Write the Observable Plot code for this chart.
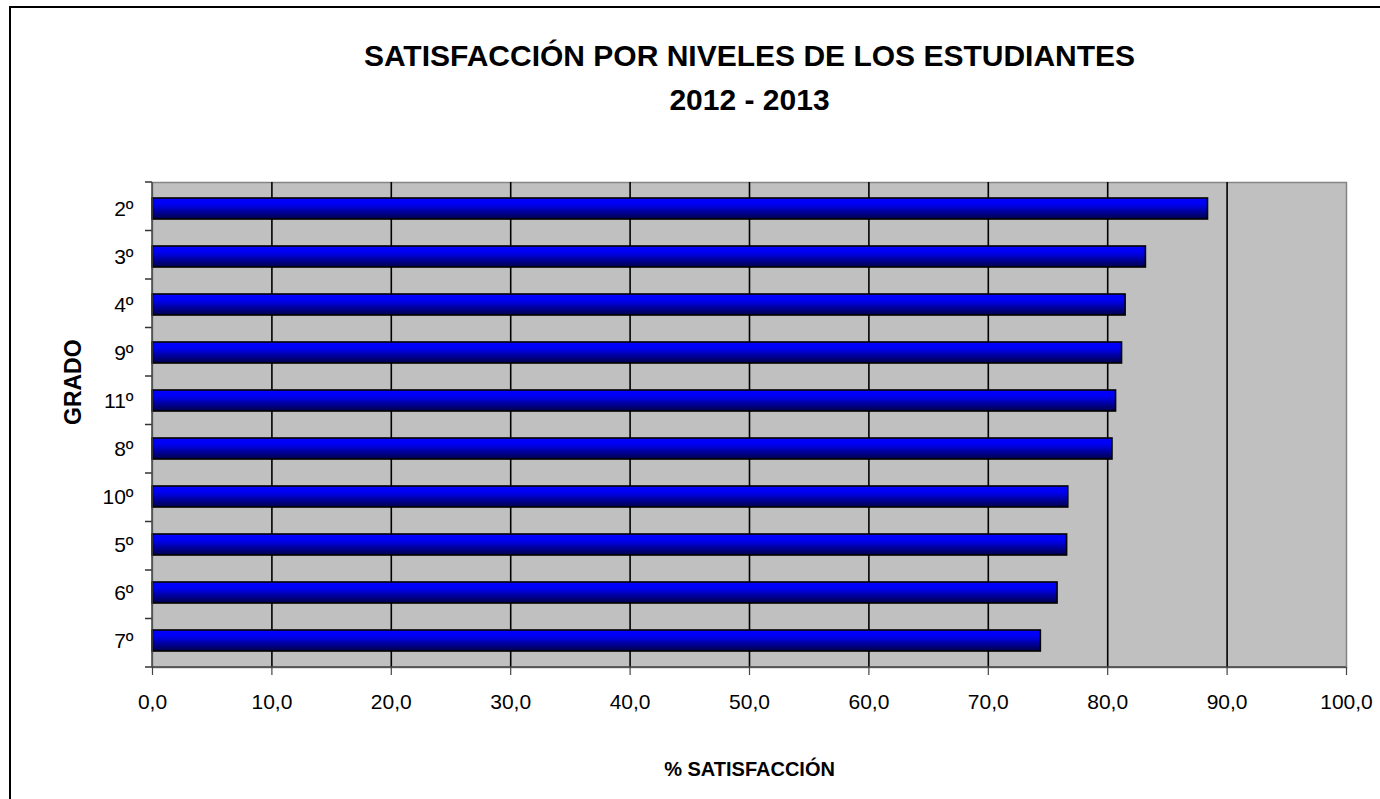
<!DOCTYPE html>
<html><head><meta charset="utf-8">
<script src="https://cdn.jsdelivr.net/npm/d3@7"></script>
<script src="https://cdn.jsdelivr.net/npm/@observablehq/plot@0.6"></script>
<style>
html,body{margin:0;padding:0;background:#fff;}
#wrap{position:relative;width:1380px;height:799px;overflow:hidden;font-family:"Liberation Sans",Arial,sans-serif;background:#fff;}
#border{position:absolute;left:9px;top:6px;width:1420px;height:840px;border:2px solid #000;box-sizing:border-box;}
#chart{position:absolute;left:0;top:0;}
</style></head><body>
<div id="wrap"><div id="border"></div><div id="chart"></div></div>
<script>
const grades = ["2º","3º","4º","9º","11º","8º","10º","5º","6º","7º"];
const satisfaction = [88.4, 83.2, 81.5, 81.2, 80.7, 80.4, 76.7, 76.6, 75.8, 74.4];
const xTicks = [0,10,20,30,40,50,60,70,80,90,100];
const xGrid = [10,20,30,40,50,60,70,80,90];
const titleLines = ["SATISFACCIÓN POR NIVELES DE LOS ESTUDIANTES", "2012 - 2013"];
const xLabel = "% SATISFACCIÓN";
const yLabel = "GRADO";

const data = grades.map((g, i) => ({grade: g, value: satisfaction[i]}));

const defsMark = () => {
  const defs = d3.create("svg:defs");
  const lg = defs.append("linearGradient").attr("id", "barGrad").attr("x1", 0).attr("y1", 0).attr("x2", 0).attr("y2", 1);
  lg.append("stop").attr("offset", "0%").attr("stop-color", "#0000ff");
  lg.append("stop").attr("offset", "30%").attr("stop-color", "#0000f2");
  lg.append("stop").attr("offset", "100%").attr("stop-color", "#00004a");
  return defs.node();
};

const axesMark = (index, scales, values, dim) => {
  const g = d3.create("svg:g");
  const top = dim.marginTop, bottom = dim.height - dim.marginBottom;
  const left = dim.marginLeft, right = dim.width - dim.marginRight;
  const n = grades.length;
  for (let i = 0; i <= n; i++) {
    const y = top + (bottom - top) * i / n;
    g.append("line").attr("x1", left - 7).attr("x2", left).attr("y1", y).attr("y2", y)
      .attr("stroke", "#333").attr("stroke-width", 1.5);
  }
  g.append("line").attr("x1", left).attr("x2", left).attr("y1", top).attr("y2", bottom)
    .attr("stroke", "#444").attr("stroke-width", 1.5);
  g.append("line").attr("x1", left).attr("x2", right).attr("y1", bottom).attr("y2", bottom)
    .attr("stroke", "#444").attr("stroke-width", 1.5);
  return g.node();
};

const chart = Plot.plot({
  width: 1380,
  height: 799,
  marginLeft: 152,
  marginRight: 34,
  marginTop: 182,
  marginBottom: 132,
  style: {fontFamily: "'Liberation Sans', Arial, sans-serif", color: "#000", background: "transparent", overflow: "visible"},
  x: {domain: [0, 100]},
  y: {domain: grades, paddingInner: 0.57, paddingOuter: 0.285},
  marks: [
    defsMark,
    Plot.frame({fill: "#c0c0c0", stroke: "#858585", strokeWidth: 1.5}),
    Plot.gridX(xGrid, {stroke: "#000", strokeOpacity: 1, strokeWidth: 1.6}),
    Plot.barX(data, {x: "value", y: "grade", fill: "url(#barGrad)", stroke: "#000", strokeWidth: 1.6}),
    axesMark,
    Plot.axisX(xTicks, {tickFormat: d => d.toFixed(1).replace(".", ","), tickSize: 8, tickPadding: 19, fontSize: 21, stroke: "#444", strokeWidth: 1.2, label: null}),
    Plot.axisY({tickSize: 0, tickPadding: 19, fontSize: 21, label: null}),
    Plot.text([yLabel], {frameAnchor: "left", rotate: -90, dx: -79, fontWeight: "bold", fontSize: 23, fill: "#000"}),
    Plot.text([xLabel], {frameAnchor: "bottom", lineAnchor: "middle", dy: 102, fontWeight: "bold", fontSize: 20, fill: "#000"}),
    Plot.text([titleLines[0]], {frameAnchor: "top", lineAnchor: "middle", dy: -126, fontWeight: "bold", fontSize: 30, fill: "#000"}),
    Plot.text([titleLines[1]], {frameAnchor: "top", lineAnchor: "middle", dy: -82, fontWeight: "bold", fontSize: 30, fill: "#000"})
  ]
});
document.getElementById("chart").appendChild(chart);
</script>
</body></html>
